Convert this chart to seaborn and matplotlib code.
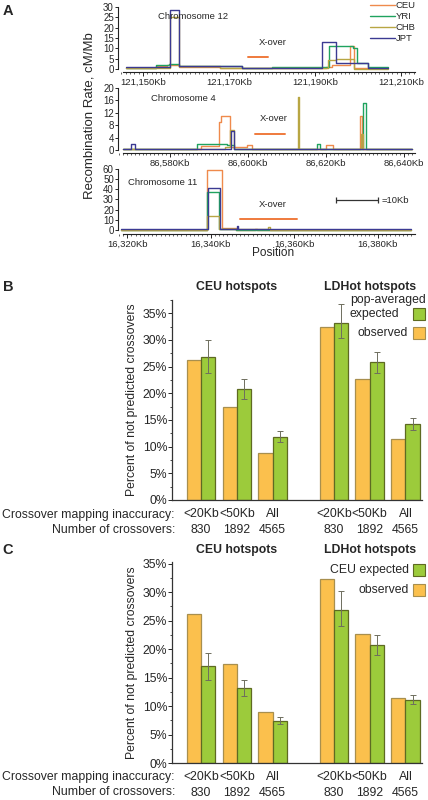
import numpy as np
import pandas as pd
import matplotlib
matplotlib.use('Agg')
import matplotlib.pyplot as plt
import matplotlib.ticker as mticker
from matplotlib.patches import Rectangle
import seaborn as sns

sns.set_style('white')
plt.rcParams['font.family'] = ['Liberation Sans', 'DejaVu Sans']

W, H = 428, 800

pops = ['CEU', 'YRI', 'CHB', 'JPT']
pop_colors = {'CEU': '#EF8A4C', 'YRI': '#1FA35F', 'CHB': '#B8A643', 'JPT': '#3B3A92'}

# ---- panel A: recombination rate steps (position in Kb, rate in cM/Mb)
chr12_ceu_kb = [121146, 121153, 121155.5, 121158.5, 121168, 121180, 121192.5, 121194, 121198.2, 121199.2, 121207]
chr12_ceu_rate = [0.5, 1.5, 2.0, 1.0, 0.6, 0.3, 1.0, 2.0, 11.0, 0.3, 0.3]
chr12_yri_kb = [121146, 121153, 121156, 121158.5, 121173, 121180, 121193.3, 121198.8, 121199.8, 121202.4, 121207]
chr12_yri_rate = [0.5, 2.0, 2.3, 1.6, 0.3, 1.0, 11.2, 10.0, 3.0, 1.0, 1.0]
chr12_chb_kb = [121146, 121156.3, 121158.4, 121168, 121180, 121193, 121195, 121199, 121207]
chr12_chb_rate = [0.3, 25.0, 1.4, 0.5, 0.3, 4.5, 5.0, 0.2, 0.2]
chr12_jpt_kb = [121146, 121153, 121156.3, 121158.4, 121173, 121191.6, 121194.9, 121202.4, 121207]
chr12_jpt_rate = [1.0, 1.2, 28.5, 1.5, 0.3, 13.0, 3.0, 0.5, 0.5]

chr4_ceu_kb = [86568, 86588, 86592.6, 86593.2, 86595.4, 86599.7, 86601, 86620, 86621.8, 86628.8, 86629.2, 86642]
chr4_ceu_rate = [0.2, 1.2, 9.0, 11.0, 1.0, 1.5, 0.2, 1.5, 0.2, 11.0, 0.2, 0.2]
chr4_yri_kb = [86568, 86587, 86594.6, 86596.5, 86617.7, 86618.5, 86629.6, 86630.3, 86642]
chr4_yri_rate = [0.2, 2.0, 1.5, 0.2, 2.0, 0.2, 15.0, 0.2, 0.2]
chr4_chb_kb = [86568, 86594, 86595.5, 86596.4, 86612.8, 86613.2, 86629, 86629.6, 86642]
chr4_chb_rate = [0.2, 1.0, 6.5, 0.3, 17.0, 0.2, 5.0, 0.2, 0.2]
chr4_jpt_kb = [86568, 86570, 86571, 86595.6, 86596.4, 86642]
chr4_jpt_rate = [0.2, 2.0, 0.2, 6.0, 0.2, 0.2]

chr11_ceu_kb = [16318.5, 16339.2, 16342.6, 16346, 16350.5, 16351, 16388]
chr11_ceu_rate = [0.3, 59.0, 1.5, 0.3, 1.0, 0.3, 0.3]
chr11_yri_kb = [16318.5, 16339, 16342, 16346, 16388]
chr11_yri_rate = [0.3, 37.0, 1.0, 0.3, 0.3]
chr11_chb_kb = [16318.5, 16339.2, 16342, 16353.6, 16354.2, 16388]
chr11_chb_rate = [0.3, 14.0, 0.5, 3.0, 0.3, 0.3]
chr11_jpt_kb = [16318.5, 16339.4, 16342.2, 16346.2, 16346.6, 16388]
chr11_jpt_rate = [0.5, 41.0, 0.5, 4.0, 0.5, 0.5]

xover_chr12 = [121174.4, 121179.0]
xover_chr4 = [86601.8, 86609.5]
xover_chr11 = [16346.9, 16360.6]

# ---- panels B and C
acc_labels = ['<20Kb', '<50Kb', 'All', '<20Kb', '<50Kb', 'All']
n_cross = [830, 1892, 4565, 830, 1892, 4565]
bar_pos = [0, 1, 2, 3.71, 4.7, 5.7]

B_observed = [26.2, 17.4, 8.9, 32.4, 22.6, 11.4]
B_expected = [26.9, 20.75, 11.9, 33.1, 25.8, 14.3]
B_exp_lo = [23.9, 19.0, 10.9, 30.3, 23.9, 13.2]
B_exp_hi = [30.0, 22.6, 12.9, 36.7, 27.8, 15.3]

C_observed = [26.2, 17.4, 8.9, 32.4, 22.6, 11.4]
C_expected = [17.0, 13.1, 7.4, 26.9, 20.7, 11.1]
C_exp_lo = [14.5, 11.7, 6.8, 24.1, 19.0, 10.4]
C_exp_hi = [19.4, 14.5, 8.1, 30.2, 22.5, 11.9]

obs_color = '#FBC04D'
exp_color = '#9CCB3B'
obs_edge = '#A88F4E'
exp_edge = '#5E6A22'


def rect(l, t, r, b):
    return [l / W, 1 - b / H, (r - l) / W, (b - t) / H]


def fx(px):
    return px / W


def fy(py):
    return 1 - py / H


fig = plt.figure(figsize=(W / 100, H / 100), dpi=100)


def rate_panel(box, steps, xlim, ylim, yticks, xticks, name, txt_pos, xover, xover_y, xo_txt, legend=False):
    ax = fig.add_axes(rect(*box))
    rows = []
    for p, (kb, rate) in zip(pops, steps):
        rows.append(pd.DataFrame({'kb': kb, 'rate': rate, 'pop': p}))
    df = pd.concat(rows, ignore_index=True)
    sns.lineplot(data=df, x='kb', y='rate', hue='pop', hue_order=pops, palette=pop_colors,
                 drawstyle='steps-post', estimator=None, lw=1.0, ax=ax, legend=legend)
    ax.plot(xover, [xover_y, xover_y], color='#EF7A3C', lw=1.4)
    ax.text(xo_txt[0], xo_txt[1], 'X-over', fontsize=6.8, ha='center', va='center')
    ax.text(txt_pos[0], txt_pos[1], name, fontsize=6.8, ha='center', va='center')
    ax.set_xlim(*xlim)
    ax.set_ylim(*ylim)
    ax.set_yticks(yticks)
    ax.set_xticks(xticks)
    ax.xaxis.set_minor_locator(mticker.MultipleLocator(1))
    ax.xaxis.set_major_formatter(mticker.FuncFormatter(lambda v, _: f'{int(round(v)):,}Kb'))
    ax.tick_params(axis='x', which='major', direction='out', length=3, width=0.7, pad=1, labelsize=6.8, bottom=True)
    ax.tick_params(axis='x', which='minor', direction='out', length=1.5, width=0.5, bottom=True)
    ax.tick_params(axis='y', direction='out', length=2.5, width=0.7, pad=0.5, labelsize=7, left=True)
    ax.set_xlabel('')
    ax.set_ylabel('')
    for s in ['top', 'right']:
        ax.spines[s].set_visible(False)
    for s in ['left', 'bottom']:
        ax.spines[s].set_linewidth(0.8)
        ax.spines[s].set_color('#222222')
    ax.spines['left'].set_bounds(0, ylim[1])
    ax.spines['bottom'].set_bounds(xlim[0] + 1.2, xlim[1])
    return ax


a1 = rate_panel((118, 7, 415, 72),
                [(chr12_ceu_kb, chr12_ceu_rate), (chr12_yri_kb, chr12_yri_rate),
                 (chr12_chb_kb, chr12_chb_rate), (chr12_jpt_kb, chr12_jpt_rate)],
                (121144.2, 121213.3), (-1.45, 30), range(0, 31, 5), [121150, 121170, 121190, 121210],
                'Chromosome 12', (121161.6, 25.6), xover_chr12, 5.8, (121180.2, 13.0), legend=True)
sns.move_legend(a1, 'upper right', bbox_to_anchor=(fx(416), fy(1)), bbox_transform=fig.transFigure,
                frameon=False, title=None, fontsize=6.8, handlelength=2.6, handletextpad=0.15,
                labelspacing=0.22, borderpad=0, borderaxespad=0)

a2 = rate_panel((118, 88, 415, 153),
                [(chr4_ceu_kb, chr4_ceu_rate), (chr4_yri_kb, chr4_yri_rate),
                 (chr4_chb_kb, chr4_chb_rate), (chr4_jpt_kb, chr4_jpt_rate)],
                (86566.7, 86642.8), (-1.0, 20), range(0, 21, 4), [86580, 86600, 86620, 86640],
                'Chromosome 4', (86583.4, 16.5), xover_chr4, 5.2, (86606.5, 10.0))

a3 = rate_panel((118, 169, 415, 234),
                [(chr11_ceu_kb, chr11_ceu_rate), (chr11_yri_kb, chr11_yri_rate),
                 (chr11_chb_kb, chr11_chb_rate), (chr11_jpt_kb, chr11_jpt_rate)],
                (16317.8, 16388.9), (-4.0, 60), range(0, 61, 10), [16320, 16340, 16360, 16380],
                'Chromosome 11', (16328.4, 47.0), xover_chr11, 10.8, (16354.9, 24.6))
# 10 Kb scale bar
a3.errorbar([16375], [29], xerr=[[5], [5]], fmt='none', ecolor='#333333', elinewidth=0.9, capsize=2.5, capthick=0.9)
a3.text(16381, 29, '=10Kb', fontsize=6.8, ha='left', va='center')

fig.text(fx(273), fy(253), 'Position', fontsize=8.5, ha='center', va='center')
fig.text(fx(89), fy(116), 'Recombination Rate, cM/Mb', fontsize=9.5, rotation=90, ha='center', va='center')


def bar_panel(box, observed, expected, lo, hi, exp_label, top_y, ymax, leg):
    ax = fig.add_axes(rect(*box))
    df = pd.DataFrame({
        'pos': bar_pos * 2,
        'kind': ['observed'] * len(bar_pos) + ['expected'] * len(bar_pos),
        'value': observed + expected,
    })
    sns.barplot(data=df, x='pos', y='value', hue='kind', hue_order=['observed', 'expected'],
                palette={'observed': obs_color, 'expected': exp_color}, native_scale=True,
                errorbar=None, legend=False, linewidth=0.9, saturation=1, ax=ax)
    for patch in ax.patches:
        fc = patch.get_facecolor()
        patch.set_edgecolor(exp_edge if fc[1] > 0.75 and fc[0] < 0.8 else obs_edge)
    bw = 0.8 * np.min(np.diff(bar_pos)) / 2
    xe = np.array(bar_pos) + bw / 2
    ex = np.array(expected)
    ax.errorbar(xe, ex, yerr=[ex - np.array(lo), np.array(hi) - ex], fmt='none',
                ecolor='#6E6E5E', elinewidth=0.7, capsize=2, capthick=0.7)
    ax.set_xlim(-0.805, 6.16)
    ax.set_ylim(0, ymax)
    ax.set_yticks(range(0, 36, 5))
    ax.yaxis.set_minor_locator(mticker.MultipleLocator(2.5))
    ax.yaxis.set_major_formatter(mticker.FuncFormatter(lambda v, _: f'{int(v)}%'))
    ax.set_xticks(bar_pos)
    ax.set_xticklabels([f'{a}\n{n}' for a, n in zip(acc_labels, n_cross)], linespacing=1.45)
    ax.tick_params(axis='x', length=0, pad=6, labelsize=8.8)
    ax.tick_params(axis='y', which='major', direction='out', length=3, width=0.7, pad=0.5, labelsize=8.8, left=True)
    ax.tick_params(axis='y', which='minor', direction='out', length=1.8, width=0.6, left=True)
    ax.set_xlabel('')
    ax.set_ylabel('Percent of not predicted crossovers', fontsize=8.8, labelpad=3)
    for s in ['top', 'right']:
        ax.spines[s].set_visible(False)
    for s in ['left', 'bottom']:
        ax.spines[s].set_linewidth(0.9)
        ax.spines[s].set_color('#333333')
    fig.text(fx(236.5), fy(top_y), 'CEU hotspots', fontsize=8.8, fontweight='bold', ha='center', va='center')
    fig.text(fx(370), fy(top_y), 'LDHot hotspots', fontsize=8.8, fontweight='bold', ha='center', va='center')
    # legend
    for txt, x, y, ha in exp_label:
        fig.text(fx(x), fy(y), txt, fontsize=8.8, ha=ha, va='center')
    (gy, oy) = leg
    fig.patches.append(Rectangle((fx(413), fy(gy + 6)), 12 / W, 12 / H, transform=fig.transFigure,
                                 facecolor=exp_color, edgecolor=exp_edge, lw=0.8))
    fig.patches.append(Rectangle((fx(413), fy(oy + 6)), 12 / W, 12 / H, transform=fig.transFigure,
                                 facecolor=obs_color, edgecolor=obs_edge, lw=0.8))
    return ax


b = bar_panel((172, 300, 422, 500), B_observed, B_expected, B_exp_lo, B_exp_hi,
              [('pop-averaged', 350, 300, 'left'), ('expected', 350, 314, 'left'), ('observed', 408, 333, 'right')],
              287, 37.5, (314, 333))
c = bar_panel((172, 562, 422, 763), C_observed, C_expected, C_exp_lo, C_exp_hi,
              [('CEU expected', 409, 570, 'right'), ('observed', 409, 590, 'right')],
              550, 35.3, (570, 590))

for y0 in (515, 777):
    fig.text(fx(175), fy(y0), 'Crossover mapping inaccuracy:', fontsize=8.8, ha='right', va='center')
    fig.text(fx(175), fy(y0 + 15), 'Number of crossovers:', fontsize=8.8, ha='right', va='center')

fig.text(fx(8), fy(11), 'A', fontsize=10.5, fontweight='bold', ha='center', va='center')
fig.text(fx(8), fy(287), 'B', fontsize=10.5, fontweight='bold', ha='center', va='center')
fig.text(fx(8), fy(550), 'C', fontsize=10.5, fontweight='bold', ha='center', va='center')

fig.savefig('out.png', dpi=100)
